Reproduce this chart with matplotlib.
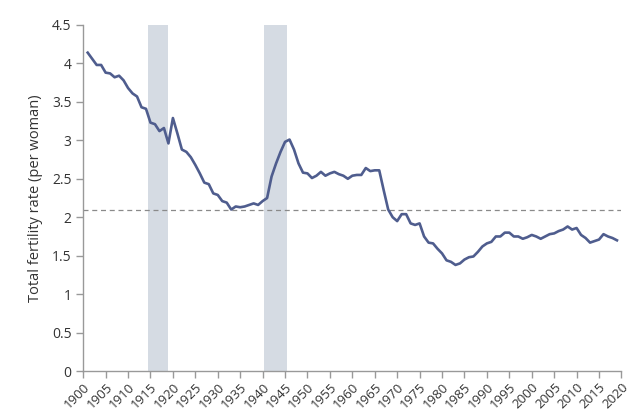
import matplotlib
matplotlib.use("Agg")
import matplotlib.pyplot as plt
import numpy as np

plt.rcParams['font.family'] = ['Open Sans', 'DejaVu Sans']

years = list(range(1901, 2020))
tfr = [4.14, 4.06, 3.98, 3.98, 3.88, 3.87, 3.82, 3.84, 3.78, 3.68,
       3.61, 3.57, 3.43, 3.41, 3.23, 3.21, 3.12, 3.16, 2.96, 3.29,
       3.09, 2.88, 2.85, 2.78, 2.68, 2.57, 2.45, 2.43, 2.31, 2.29,
       2.21, 2.19, 2.10, 2.14, 2.13, 2.14, 2.16, 2.18, 2.16, 2.21,
       2.25, 2.53, 2.70, 2.85, 2.98, 3.01, 2.88, 2.70, 2.58, 2.57,
       2.51, 2.54, 2.59, 2.54, 2.57, 2.59, 2.56, 2.54, 2.50, 2.54,
       2.55, 2.55, 2.64, 2.60, 2.61, 2.61, 2.35, 2.10, 2.00, 1.95,
       2.04, 2.04, 1.92, 1.90, 1.92, 1.75, 1.67, 1.66, 1.59, 1.53,
       1.44, 1.42, 1.38, 1.40, 1.45, 1.48, 1.49, 1.55, 1.62, 1.66,
       1.68, 1.75, 1.75, 1.80, 1.80, 1.75, 1.75, 1.72, 1.74, 1.77,
       1.75, 1.72, 1.75, 1.78, 1.79, 1.82, 1.84, 1.88, 1.84, 1.86,
       1.77, 1.73, 1.67, 1.69, 1.71, 1.78, 1.75, 1.73, 1.70]
war_periods = [(1914.55, 1918.85), (1940.3, 1945.35)]
replacement = 2.1
xticks = list(range(1900, 2021, 5))
yticks = [0, 0.5, 1, 1.5, 2, 2.5, 3, 3.5, 4, 4.5]
ytick_labels = ['0', '0.5', '1', '1.5', '2', '2.5', '3', '3.5', '4', '4.5']

fig = plt.figure(figsize=(6.4, 4.16), dpi=100)
ax = fig.add_axes([0.130, 0.108, 0.841, 0.832])

for a, b in war_periods:
    ax.axvspan(a, b, color='#d5dbe3', lw=0, zorder=1)
ax.axhline(replacement, color='#8a8a8a', lw=0.9, ls=(0, (4, 3)), zorder=2)
ax.plot(years, tfr, color='#4f5d8e', lw=1.9, zorder=3, solid_joinstyle='round')

ax.set_xlim(1900, 2020)
ax.set_ylim(0, 4.5)
ax.set_xticks(xticks)
ax.set_xticklabels([str(t) for t in xticks], rotation=45, ha='right',
                   rotation_mode='anchor', fontsize=9.5)
ax.set_yticks(yticks)
ax.set_yticklabels(ytick_labels, fontsize=10)
ax.set_ylabel('Total fertility rate (per woman)', fontsize=10.5, color='#333333', labelpad=6)

for s in ['top', 'right']:
    ax.spines[s].set_visible(False)
for s in ['left', 'bottom']:
    ax.spines[s].set_color('#999999')
    ax.spines[s].set_linewidth(1)
ax.tick_params(axis='both', colors='#999999', labelcolor='#333333', length=5, width=1)
ax.tick_params(axis='x', pad=2)

fig.savefig('out.png', dpi=100)
